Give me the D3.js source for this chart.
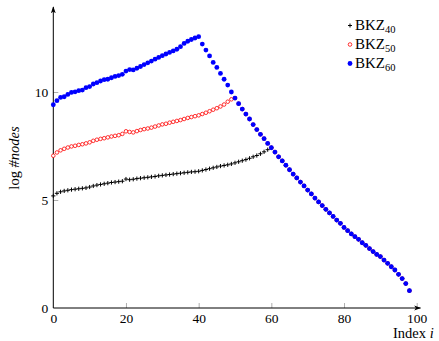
<!DOCTYPE html>
<html>
<head>
<meta charset="utf-8">
<script src="https://cdn.jsdelivr.net/npm/d3@7"></script>
<style>
  body { margin: 0; background: #fff; }
</style>
</head>
<body>
<svg id="chart" width="439" height="341"></svg>
<script>
// x tick labels / y tick labels
const xTicks = [0, 20, 40, 60, 80, 100];
const yTicks = [0, 5, 10];

// head of each curve (index 0 .. peak)
const bkz40Head = [5.19, 5.31, 5.38, 5.42, 5.45, 5.48, 5.50, 5.52, 5.54, 5.56,
  5.60, 5.65, 5.69, 5.72, 5.75, 5.78, 5.81, 5.83, 5.85, 5.87,
  5.97, 5.94, 5.96, 5.99, 6.01, 6.03, 6.05, 6.07, 6.09, 6.12,
  6.14, 6.16, 6.18, 6.20, 6.22, 6.24, 6.26, 6.28, 6.30, 6.31,
  6.33, 6.37, 6.41, 6.45, 6.49, 6.53, 6.57, 6.60, 6.63, 6.67,
  6.72, 6.77, 6.82, 6.87, 6.93, 7.00, 7.06, 7.14, 7.23, 7.33];
const bkz50Head = [7.05, 7.20, 7.30, 7.37, 7.43, 7.48, 7.51, 7.55, 7.58, 7.62,
  7.67, 7.74, 7.79, 7.83, 7.86, 7.90, 7.94, 7.97, 8.00, 8.06,
  8.18, 8.15, 8.13, 8.19, 8.24, 8.28, 8.31, 8.35, 8.40, 8.45,
  8.50, 8.53, 8.58, 8.62, 8.66, 8.70, 8.75, 8.80, 8.84, 8.88,
  8.92, 8.98, 9.04, 9.11, 9.18, 9.25, 9.33, 9.42, 9.55, 9.66];
const bkz60 = [9.41, 9.60, 9.75, 9.78, 9.89, 9.98, 10.01, 10.06, 10.09, 10.20,
  10.25, 10.37, 10.43, 10.51, 10.57, 10.59, 10.66, 10.72, 10.76, 10.82,
  10.97, 11.04, 11.02, 11.10, 11.18, 11.27, 11.35, 11.43, 11.52, 11.60,
  11.68, 11.76, 11.83, 11.90, 11.98, 12.10, 12.25, 12.35, 12.43, 12.50,
  12.56, 12.22, 11.94, 11.67, 11.37, 11.14, 10.86, 10.59, 10.32, 10.00,
  9.72, 9.46, 9.21, 8.98, 8.75, 8.49, 8.26, 8.04, 7.84, 7.62,
  7.42, 7.22, 7.00, 6.81, 6.61, 6.40, 6.20, 6.02, 5.83, 5.65,
  5.46, 5.28, 5.09, 4.91, 4.74, 4.57, 4.40, 4.24, 4.07, 3.92,
  3.73, 3.58, 3.43, 3.30, 3.18, 3.02, 2.90, 2.75, 2.61, 2.48,
  2.38, 2.22, 2.07, 1.91, 1.76, 1.56, 1.36, 1.13, 0.80];

// after their peak the smaller blocksizes follow the same tail as BKZ60
const bkz40 = bkz40Head.concat(bkz60.slice(bkz40Head.length));
const bkz50 = bkz50Head.concat(bkz60.slice(bkz50Head.length));

const series = [
  { name: "BKZ", sub: "40", values: bkz40, color: "#000", mark: "plus" },
  { name: "BKZ", sub: "50", values: bkz50, color: "#f00", mark: "open" },
  { name: "BKZ", sub: "60", values: bkz60, color: "#00f", mark: "dot" }
];

const serif = "'Liberation Serif', 'Times New Roman', serif";

const svg = d3.select("#chart");

const x = d3.scaleLinear().domain([0, 100]).range([53.3, 416.7]);
const y = d3.scaleLinear().domain([0, 10]).range([308, 92]);

// arrow head
svg.append("defs").append("marker")
  .attr("id", "arrow")
  .attr("viewBox", "0 0 10 10")
  .attr("refX", 9).attr("refY", 5)
  .attr("markerWidth", 7).attr("markerHeight", 7)
  .attr("orient", "auto")
  .append("path")
  .attr("d", "M0,1.5 L10,5 L0,8.5 L2.5,5 Z")
  .attr("fill", "#000");

// X axis
const gx = svg.append("g")
  .attr("transform", "translate(0," + y(0) + ")")
  .call(d3.axisBottom(x).tickValues(xTicks).tickSizeInner(-5).tickSizeOuter(0).tickPadding(5))
  .attr("font-family", serif).attr("font-size", 13.5);
gx.select(".domain").remove();
gx.selectAll(".tick line").attr("stroke", "#999").attr("stroke-width", 0.8);
gx.selectAll(".tick text").attr("fill", "#000")
  .style("font-family", serif).style("font-size", "13.5px");

// Y axis
const gy = svg.append("g")
  .attr("transform", "translate(" + x(0) + ",0)")
  .call(d3.axisLeft(y).tickValues(yTicks).tickSizeInner(-5).tickSizeOuter(0).tickPadding(5))
  .attr("font-family", serif).attr("font-size", 13.5);
gy.select(".domain").remove();
gy.selectAll(".tick line").attr("stroke", "#999").attr("stroke-width", 0.8);
gy.selectAll(".tick text").attr("fill", "#000")
  .style("font-family", serif).style("font-size", "13.5px");
gx.selectAll(".tick").filter(d => d === 0).select("line").remove();
gy.selectAll(".tick").filter(d => d === 0).select("line").remove();

// axis lines with arrows
svg.append("line")
  .attr("x1", x(0)).attr("y1", y(0)).attr("x2", 420.5).attr("y2", y(0))
  .attr("stroke", "#000").attr("stroke-width", 1).attr("marker-end", "url(#arrow)");
svg.append("line")
  .attr("x1", x(0)).attr("y1", y(0)).attr("x2", x(0)).attr("y2", 7)
  .attr("stroke", "#000").attr("stroke-width", 1).attr("marker-end", "url(#arrow)");

// marks
series.forEach(s => {
  const g = svg.append("g");
  const pts = s.values.map((v, i) => ({ i: i, v: v }));
  if (s.mark === "plus") {
    g.selectAll("path").data(pts).enter().append("path")
      .attr("d", d => {
        const cx = x(d.i), cy = y(d.v), r = 2.1;
        return "M" + (cx - r) + "," + cy + "H" + (cx + r) + "M" + cx + "," + (cy - r) + "V" + (cy + r);
      })
      .attr("stroke", s.color).attr("stroke-width", 1).attr("fill", "none");
  } else {
    g.selectAll("circle").data(pts).enter().append("circle")
      .attr("cx", d => x(d.i))
      .attr("cy", d => y(d.v))
      .attr("r", s.mark === "open" ? 1.8 : 2.4)
      .attr("fill", s.mark === "open" ? "#fff" : s.color)
      .attr("stroke", s.color)
      .attr("stroke-width", s.mark === "open" ? 0.8 : 0);
  }
});

// legend
const legend = svg.append("g").attr("transform", "translate(350,25.5)");
series.forEach((s, k) => {
  const row = legend.append("g").attr("transform", "translate(0," + (k * 19) + ")");
  if (s.mark === "plus") {
    row.append("path").attr("d", "M-2,0H2M0,-2V2")
      .attr("stroke", s.color).attr("stroke-width", 1);
  } else {
    row.append("circle").attr("r", s.mark === "open" ? 1.8 : 2.4)
      .attr("fill", s.mark === "open" ? "#fff" : s.color)
      .attr("stroke", s.color).attr("stroke-width", s.mark === "open" ? 0.8 : 0);
  }
  const t = row.append("text").attr("x", 5).attr("y", 4.5)
    .style("font-family", serif).style("font-size", "15px");
  t.append("tspan").text(s.name);
  t.append("tspan").attr("dy", 3).style("font-size", "10.5px").text(s.sub);
});

// axis titles
svg.append("text")
  .attr("transform", "translate(19,158) rotate(-90)")
  .attr("text-anchor", "middle")
  .style("font-family", serif).style("font-size", "14.5px")
  .call(t => {
    t.append("tspan").text("log ");
    t.append("tspan").style("font-style", "italic").text("#nodes");
  });

svg.append("text")
  .attr("x", 393).attr("y", 338)
  .style("font-family", serif).style("font-size", "14.5px")
  .call(t => {
    t.append("tspan").text("Index ");
    t.append("tspan").style("font-style", "italic").text("i");
  });
</script>
</body>
</html>
